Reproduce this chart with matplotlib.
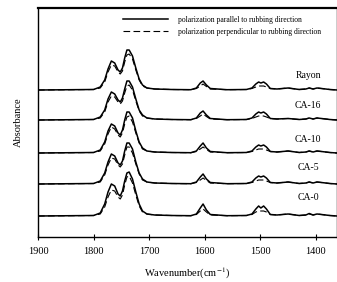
import matplotlib.pyplot as plt
from matplotlib.lines import Line2D

plt.rcParams['font.family'] = ['Liberation Serif', 'DejaVu Serif']
plt.rcParams['mathtext.fontset'] = 'stix'

# wavenumber grid (cm-1) shared by all traces
wavenumber = [1900, 1800, 1788, 1780, 1774, 1768, 1762, 1756, 1752, 1748,
              1744, 1740, 1736, 1730, 1724, 1718, 1712, 1704, 1690, 1660,
              1625, 1615, 1608, 1603, 1597, 1590, 1560, 1525, 1515, 1508,
              1503, 1499, 1494, 1489, 1482, 1470, 1450, 1430, 1418, 1412,
              1405, 1398, 1390, 1375, 1362]

samples = ['Rayon', 'CA-16', 'CA-10', 'CA-5', 'CA-0']

# absorbance above each baseline, parallel (solid) / perpendicular (dashed)
rayon_par = [0, 0.5, 3, 10, 21, 29, 27, 20, 18, 22,
             32, 40, 40, 34, 22, 11, 5, 2, 1, 0.5,
             0.3, 2, 7, 9, 5, 1.5, 0.3, 0.5, 2, 6,
             8, 7, 8, 6, 1.5, 1, 2, 0.5, 1, 2,
             1, 2, 1.5, 0.5, 0]
rayon_perp = [0, 0.5, 2, 8, 18, 25, 24, 18, 16, 19,
              28, 35, 36, 31, 20, 10, 4, 2, 1, 0.5,
              0.3, 1.5, 4, 6, 3.5, 1, 0.3, 0.5, 1.5, 3,
              4, 4, 4, 3, 1.5, 1, 2, 0.5, 1, 2,
              1, 2, 1.5, 0.5, 0]
ca16_par = [0, 0.5, 3, 10, 21, 28, 26, 20, 18, 22,
            31, 39, 39, 33, 21, 10, 5, 2, 1, 0.5,
            0.3, 2, 7, 9, 5, 1.5, 0.3, 0.5, 2, 6,
            8, 7, 8, 6, 1.5, 1, 1.5, 0.5, 1, 2,
            1, 2, 1.5, 0.5, 0]
ca16_perp = [0, 0.5, 2, 8, 18, 24, 23, 18, 16, 19,
             27, 34, 35, 30, 19, 9, 4, 2, 1, 0.5,
             0.3, 1.5, 4, 6, 3.5, 1, 0.3, 0.5, 1.5, 3,
             4, 4, 4, 3, 1.5, 1, 1.5, 0.5, 1, 2,
             1, 2, 1.5, 0.5, 0]
ca10_par = [0, 0.5, 3, 11, 22, 29, 27, 20, 18, 23,
            33, 41, 41, 35, 22, 11, 5, 2, 1, 0.5,
            0.3, 2, 7, 10, 5, 1.5, 0.3, 0.5, 2, 6,
            8, 7, 8, 6, 1.5, 1, 2, 0.5, 1, 2,
            1, 2, 1.5, 0.5, 0]
ca10_perp = [0, 0.5, 2, 9, 19, 26, 24, 18, 16, 20,
             29, 36, 37, 31, 20, 10, 4, 2, 1, 0.5,
             0.3, 1.5, 4, 6, 3.5, 1, 0.3, 0.5, 1.5, 3,
             4, 4, 4, 3, 1.5, 1, 2, 0.5, 1, 2,
             1, 2, 1.5, 0.5, 0]
ca5_par = [0, 0.5, 3, 11, 22, 30, 28, 21, 19, 23,
           33, 41, 41, 35, 22, 11, 5, 2, 1, 0.5,
           0.3, 2, 7, 10, 5, 1.5, 0.3, 0.5, 2, 6,
           8, 7, 8, 6, 1.5, 1, 2, 0.5, 1, 2,
           1, 2, 1.5, 0.5, 0]
ca5_perp = [0, 0.5, 2, 9, 19, 26, 25, 19, 17, 20,
            29, 37, 37, 31, 20, 10, 4, 2, 1, 0.5,
            0.3, 1.5, 4, 6, 3.5, 1, 0.3, 0.5, 1.5, 3,
            4, 4, 4, 3, 1.5, 1, 2, 0.5, 1, 2,
            1, 2, 1.5, 0.5, 0]
ca0_par = [0, 0.5, 3, 12, 24, 32, 30, 22, 20, 25,
           35, 43, 44, 37, 24, 12, 5, 2, 1, 0.5,
           0.3, 2, 8, 12, 6, 1.5, 0.3, 0.5, 2, 7,
           10, 8, 10, 7, 1.5, 1, 2, 0.5, 1, 2.5,
           1, 2, 1.5, 0.5, 0]
ca0_perp = [0, 0.5, 2, 9, 19, 26, 25, 19, 17, 21,
            31, 39, 40, 33, 21, 10, 4, 2, 1, 0.5,
            0.3, 1.5, 5, 7, 4, 1, 0.3, 0.5, 1.5, 4,
            5, 5, 5, 4, 1.5, 1, 2, 0.5, 1, 2,
            1, 2, 1.5, 0.5, 0]

parallel = [rayon_par, ca16_par, ca10_par, ca5_par, ca0_par]
perpendicular = [rayon_perp, ca16_perp, ca10_perp, ca5_perp, ca0_perp]

# vertical offsets of the stacked spectra and label heights
offsets = [147, 117, 84, 53, 21]
label_y = [162, 132, 98, 69, 39]

fig, ax = plt.subplots(figsize=(3.37, 2.82), dpi=100)
fig.subplots_adjust(left=38 / 337, right=1.0, bottom=45 / 282, top=1 - 8 / 282)

for name, par, perp, off, ly in zip(samples, parallel, perpendicular, offsets, label_y):
    ax.plot(wavenumber, [v + off for v in par], color='black', lw=1.1)
    ax.plot(wavenumber, [v + off for v in perp], color='black', lw=0.8,
            linestyle=(0, (6, 3)))
    ax.text(1414, ly, name, ha='center', va='center', fontsize=7)

ax.set_xlim(1900, 1362)
ax.set_ylim(0, 229)
ax.set_xticks([1900, 1800, 1700, 1600, 1500, 1400])
ax.set_yticks([])
ax.tick_params(axis='x', direction='inout', length=4, width=0.8, labelsize=7.5, pad=5)

for side in ['left', 'bottom', 'right']:
    ax.spines[side].set_linewidth(1.0)
ax.spines['top'].set_linewidth(1.6)

ax.set_xlabel('Wavenumber(cm$^{-1}$)', fontsize=7.5, labelpad=7)
ax.set_ylabel('Absorbance', fontsize=7.5, labelpad=11)

handles = [Line2D([], [], color='black', lw=1.1),
           Line2D([], [], color='black', lw=0.8, linestyle=(0, (6, 3)))]
ax.legend(handles,
          ['polarization parallel to rubbing direction',
           'polarization perpendicular to rubbing direction'],
          loc='upper left', bbox_to_anchor=(0.26, 0.995), frameon=False,
          fontsize=5.5, handlelength=6, handletextpad=1.3, labelspacing=0.5)

fig.savefig('out.png', dpi=100)
